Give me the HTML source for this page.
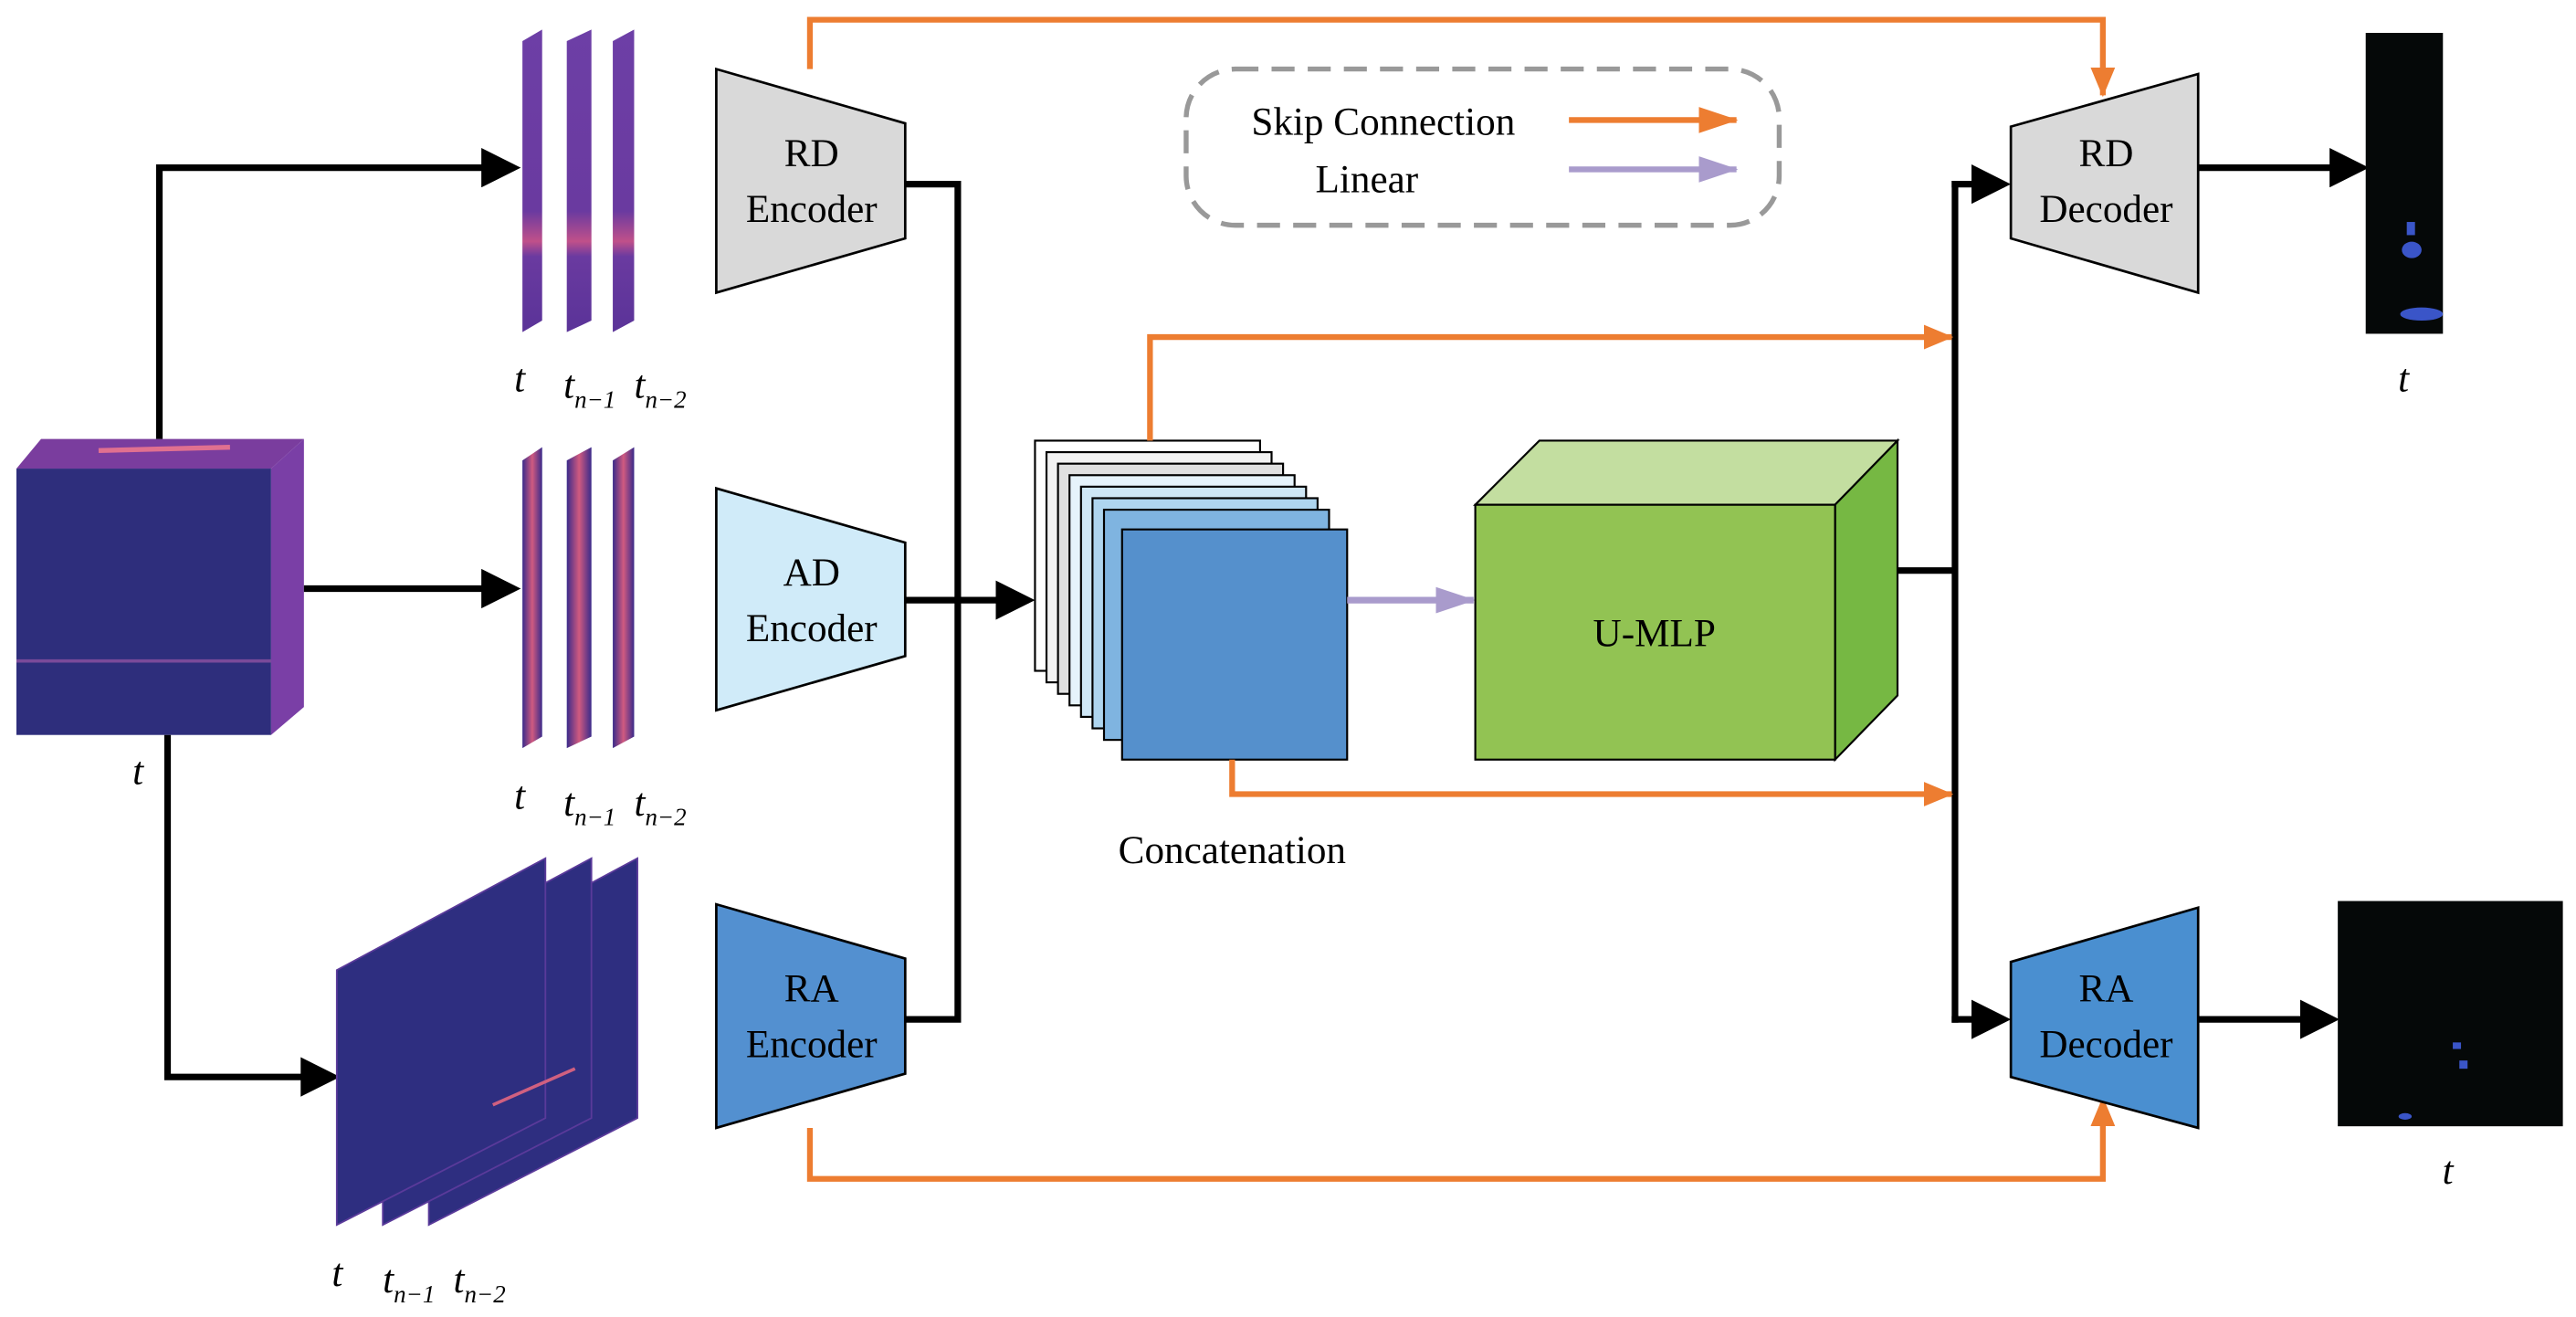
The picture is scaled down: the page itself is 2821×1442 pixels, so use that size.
<!DOCTYPE html>
<html><head><meta charset="utf-8"><style>html,body{margin:0;padding:0;background:#fff}svg{display:block}</style></head>
<body>
<svg width="2821" height="1442" viewBox="0 0 1568 801" preserveAspectRatio="none" xmlns="http://www.w3.org/2000/svg" font-family="Liberation Serif, serif">
<defs>
<marker id="ao" markerWidth="18" markerHeight="15" refX="17" refY="7.5" orient="auto" markerUnits="userSpaceOnUse" viewBox="0 0 18 15"><path d="M0,0 L18,7.5 L0,15z" fill="#ed7d31"/></marker>
<marker id="ap" markerWidth="24" markerHeight="16" refX="23" refY="8" orient="auto" markerUnits="userSpaceOnUse" viewBox="0 0 24 16"><path d="M0,0 L24,8 L0,16z" fill="#a99bcc"/></marker>
<marker id="aol" markerWidth="24" markerHeight="16" refX="23" refY="8" orient="auto" markerUnits="userSpaceOnUse" viewBox="0 0 24 16"><path d="M0,0 L24,8 L0,16z" fill="#ed7d31"/></marker>
<marker id="abk" markerWidth="6" markerHeight="6" refX="5" refY="3" orient="auto" viewBox="0 0 6 6"><path d="M0,0 L6,3 L0,6z" fill="#000"/></marker>
<linearGradient id="strip" x1="0" y1="0" x2="0" y2="1"><stop offset="0" stop-color="#6d3fa6"/><stop offset="0.6" stop-color="#6a3aa0"/><stop offset="0.7" stop-color="#c0508a"/><stop offset="0.75" stop-color="#6a3aa0"/><stop offset="1" stop-color="#5a3398"/></linearGradient>
<linearGradient id="strip2" x1="0" y1="0" x2="1" y2="0"><stop offset="0" stop-color="#3a2a8a"/><stop offset="0.5" stop-color="#d05a80"/><stop offset="1" stop-color="#3a2a8a"/></linearGradient>
</defs>

<polygon points="10,285 25,267 185,267 165,285" fill="#7a3d9e"/>
<line x1="60" y1="274" x2="140" y2="272" stroke="#e07090" stroke-width="3"/>
<polygon points="165,285 185,267 185,430 165,447" fill="#7a3fa6"/>
<rect x="10" y="285" width="155" height="162" fill="#2e2e7c"/>
<line x1="10" y1="402" x2="165" y2="402" stroke="#7a4a9a" stroke-width="2"/>
<text x="84" y="477" font-size="24" font-style="italic" text-anchor="middle">t</text>

<polyline points="97,267 97,102 313,102" fill="none" stroke="#000" stroke-width="4" marker-end="url(#abk)"/>
<line x1="185" y1="358" x2="313" y2="358" stroke="#000" stroke-width="4" marker-end="url(#abk)"/>
<polyline points="102,447 102,655 203,655" fill="none" stroke="#000" stroke-width="4" marker-end="url(#abk)"/>

<polygon points="318,25 330,18 330,195 318,202" fill="url(#strip)"/>
<polygon points="345,25 360,18 360,195 345,202" fill="url(#strip)"/>
<polygon points="373,25 386,18 386,195 373,202" fill="url(#strip)"/>
<g font-size="24" font-style="italic"><text x="313" y="238">t</text><text x="343" y="242">t<tspan font-size="15" dy="6">n−1</tspan></text><text x="386" y="242">t<tspan font-size="15" dy="6">n−2</tspan></text></g>
<polygon points="318,280 330,272 330,448 318,455" fill="url(#strip2)"/>
<polygon points="345,280 360,272 360,448 345,455" fill="url(#strip2)"/>
<polygon points="373,280 386,272 386,448 373,455" fill="url(#strip2)"/>
<g font-size="24" font-style="italic"><text x="313" y="492">t</text><text x="343" y="496">t<tspan font-size="15" dy="6">n−1</tspan></text><text x="386" y="496">t<tspan font-size="15" dy="6">n−2</tspan></text></g>
<polygon points="261,590 388,522 388,680 261,745" fill="#2e2e80" stroke="#5a3a9a"/>
<polygon points="233,590 360,522 360,680 233,745" fill="#2e2e80" stroke="#5a3a9a"/>
<polygon points="205,590 332,522 332,680 205,745" fill="#2e2e80" stroke="#5a3a9a"/>
<line x1="300" y1="672" x2="350" y2="650" stroke="#d06080" stroke-width="2"/>
<g font-size="24" font-style="italic"><text x="202" y="782">t</text><text x="233" y="786">t<tspan font-size="15" dy="6">n−1</tspan></text><text x="276" y="786">t<tspan font-size="15" dy="6">n−2</tspan></text></g>

<g stroke="#000" stroke-width="1.5" font-size="24" text-anchor="middle">
<polygon points="436,42 551,75 551,145 436,178" fill="#d9d9d9"/>
<polygon points="436,297 551,330 551,399 436,432" fill="#d0ebf9"/>
<polygon points="436,550 551,583 551,653 436,686" fill="#5390d0"/>
<g stroke="none"><text x="494" y="101">RD</text><text x="494" y="135">Encoder</text>
<text x="494" y="356">AD</text><text x="494" y="390">Encoder</text>
<text x="494" y="609">RA</text><text x="494" y="643">Encoder</text></g>
</g>
<polyline points="551,112 583,112 583,620 551,620" fill="none" stroke="#000" stroke-width="4"/>
<line x1="551" y1="365" x2="626" y2="365" stroke="#000" stroke-width="4" marker-end="url(#abk)"/>

<g stroke="#000" stroke-width="1.2">
<rect x="630" y="268" width="137" height="140" fill="#fff"/>
<rect x="637" y="275" width="137" height="140" fill="#f2f2f2"/>
<rect x="644" y="282" width="137" height="140" fill="#e0e0e0"/>
<rect x="651" y="289" width="137" height="140" fill="#e6f3fb"/>
<rect x="658" y="296" width="137" height="140" fill="#cfe7f6"/>
<rect x="665" y="303" width="137" height="140" fill="#aed5ef"/>
<rect x="672" y="310" width="137" height="140" fill="#7fb4e0"/>
<rect x="683" y="322" width="137" height="140" fill="#5590cc"/>
</g>
<text x="750" y="525" font-size="24" text-anchor="middle">Concatenation</text>
<line x1="820" y1="365" x2="897" y2="365" stroke="#a99bcc" stroke-width="4" marker-end="url(#ap)"/>

<g stroke="#000" stroke-width="1.2">
<polygon points="898,307 937,268 1155,268 1117,307" fill="#c3dea0"/>
<polygon points="1117,307 1155,268 1155,423 1117,462" fill="#76b843"/>
<rect x="898" y="307" width="219" height="155" fill="#92c353"/>
</g>
<text x="1007" y="393" font-size="24" text-anchor="middle">U-MLP</text>

<line x1="1155" y1="347" x2="1190" y2="347" stroke="#000" stroke-width="4"/>
<line x1="1190" y1="110" x2="1190" y2="622" stroke="#000" stroke-width="4"/>
<line x1="1188" y1="112" x2="1220" y2="112" stroke="#000" stroke-width="4" marker-end="url(#abk)"/>
<line x1="1188" y1="620" x2="1220" y2="620" stroke="#000" stroke-width="4" marker-end="url(#abk)"/>

<g fill="none" stroke="#ed7d31" stroke-width="3.5">
<polyline points="493,42 493,12 1280,12 1280,58" marker-end="url(#ao)"/>
<polyline points="700,268 700,205 1188,205" marker-end="url(#ao)"/>
<polyline points="750,462 750,483 1188,483" marker-end="url(#ao)"/>
<polyline points="493,686 493,717 1280,717 1280,668" marker-end="url(#ao)"/>
</g>

<g stroke="#000" stroke-width="1.5" font-size="24" text-anchor="middle">
<polygon points="1224,77 1338,45 1338,178 1224,145" fill="#d9d9d9"/>
<polygon points="1224,585 1338,552 1338,686 1224,655" fill="#4a8fd0"/>
<g stroke="none"><text x="1282" y="101">RD</text><text x="1282" y="135">Decoder</text>
<text x="1282" y="609">RA</text><text x="1282" y="643">Decoder</text></g>
</g>
<line x1="1338" y1="102" x2="1438" y2="102" stroke="#000" stroke-width="4" marker-end="url(#abk)"/>
<line x1="1338" y1="620" x2="1420" y2="620" stroke="#000" stroke-width="4" marker-end="url(#abk)"/>

<rect x="1440" y="20" width="47" height="183" fill="#050808"/>
<ellipse cx="1468" cy="152" rx="6" ry="5" fill="#3a55c8"/>
<rect x="1465" y="135" width="5" height="8" fill="#3a55c8"/>
<ellipse cx="1474" cy="191" rx="13" ry="4" fill="#3a55c8"/>
<text x="1463" y="238" font-size="24" font-style="italic" text-anchor="middle">t</text>
<rect x="1423" y="548" width="137" height="137" fill="#050808"/>
<rect x="1493" y="634" width="5" height="4" fill="#3a55c8"/>
<rect x="1497" y="645" width="5" height="5" fill="#3a55c8"/>
<ellipse cx="1464" cy="679" rx="4" ry="2" fill="#3a55c8"/>
<text x="1490" y="720" font-size="24" font-style="italic" text-anchor="middle">t</text>

<rect x="722" y="42" width="361" height="95" rx="30" fill="none" stroke="#999" stroke-width="3" stroke-dasharray="14,8"/>
<text x="842" y="82" font-size="24" text-anchor="middle">Skip Connection</text>
<text x="832" y="117" font-size="24" text-anchor="middle">Linear</text>
<line x1="955" y1="73" x2="1057" y2="73" stroke="#ed7d31" stroke-width="3.5" marker-end="url(#aol)"/>
<line x1="955" y1="103" x2="1057" y2="103" stroke="#a99bcc" stroke-width="3.5" marker-end="url(#ap)"/>
</svg>
</body></html>
